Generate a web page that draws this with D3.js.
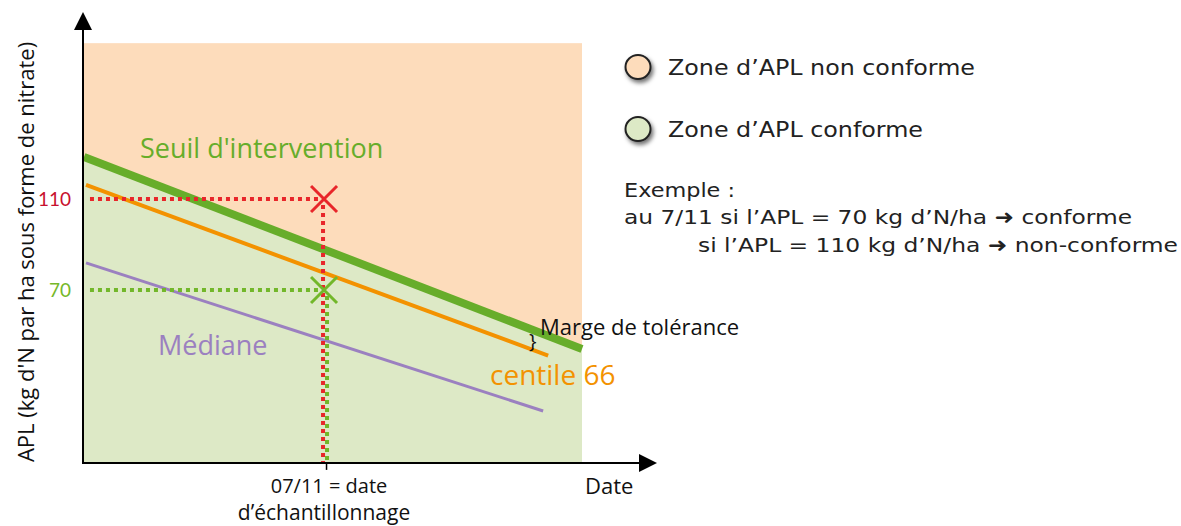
<!DOCTYPE html>
<html><head><meta charset="utf-8">
<script src="https://cdn.jsdelivr.net/npm/d3@7"></script>
<style>
html,body{margin:0;padding:0;background:#fff;}
svg{display:block;}
text{font-family:"Open Sans","Liberation Sans",sans-serif;}
.leg{font-family:"DejaVu Sans","Noto Sans",sans-serif;}
</style></head>
<body>
<svg id="c" width="1181" height="526"></svg>
<script>
// ---- data (schematic: x = day index on date axis, y = APL kg N/ha) ----
const xDomain = [0, 100];
const sampleDay = 48.4;            // 07/11
const yTicks = [110, 70];
const yTickColors = ["#c8102e", "#76b82a"];
const seuilX = [0, 100];
const seuilY = [128.5, 44.1];
const centileX = [0.4, 93.2];
const centileY = [116.2, 41.2];
const medianeX = [0.4, 92.2];
const medianeY = [81.9, 16.8];
const zoneTop = 178.5;
const yBottom = -6;
const exampleValues = [110, 70];
const exampleColors = ["#e8262a", "#72b72a"];

const svg = d3.select("#c");
const x = d3.scaleLinear().domain(xDomain).range([84, 582]);
const y = d3.scaleLinear().domain([70, 110]).range([290, 199]);

// Non-conforming zone (whole box)
svg.append("rect").attr("x", x(0)).attr("y", y(zoneTop))
  .attr("width", x(100) - x(0)).attr("height", y(yBottom) - y(zoneTop))
  .attr("fill", "#fddcbb");
// Conforming zone (below threshold)
const area = d3.area().x(d => x(d[0])).y0(y(yBottom)).y1(d => y(d[1]));
svg.append("path").datum(seuilX.map((d, i) => [d, seuilY[i]]))
  .attr("d", area).attr("fill", "#dde9c6");

const line = d3.line().x(d => x(d[0])).y(d => y(d[1]));
svg.append("path").datum(medianeX.map((d, i) => [d, medianeY[i]]))
  .attr("d", line).attr("stroke", "#9b80c0").attr("stroke-width", 3).attr("fill", "none");
svg.append("path").datum(centileX.map((d, i) => [d, centileY[i]]))
  .attr("d", line).attr("stroke", "#f39200").attr("stroke-width", 4).attr("fill", "none");
svg.append("path").datum(seuilX.map((d, i) => [d, seuilY[i]]))
  .attr("d", line).attr("stroke", "#67ad2a").attr("stroke-width", 8).attr("fill", "none");

// Example dotted lines and crosses
exampleValues.forEach((v, i) => {
  const c = exampleColors[i];
  const dx = i === 0 ? -2 : 2;
  svg.append("line").attr("x1", x(1.2)).attr("x2", x(sampleDay) - 2)
    .attr("y1", y(v)).attr("y2", y(v))
    .attr("stroke", c).attr("stroke-width", 4).attr("stroke-dasharray", "4,4");
  svg.append("line").attr("x1", x(sampleDay) + dx).attr("x2", x(sampleDay) + dx)
    .attr("y1", y(v) + 6).attr("y2", y(yBottom))
    .attr("stroke", c).attr("stroke-width", 4).attr("stroke-dasharray", "4,4");
  const cx = x(sampleDay) - 1, cy = y(v), s = 13;
  svg.append("path").attr("d", `M${cx - s},${cy - s}L${cx + s},${cy + s}M${cx - s},${cy + s}L${cx + s},${cy - s}`)
    .attr("stroke", c).attr("stroke-width", 3).attr("fill", "none");
});

// Axes
const xAxis = d3.axisBottom(x).tickValues([sampleDay]).tickSize(7).tickFormat("");
const gx = svg.append("g").attr("transform", `translate(0,${y(yBottom)})`).call(xAxis);
gx.select(".domain").remove();
gx.selectAll(".tick line").attr("stroke", "#000").attr("stroke-width", 1.5)
  .attr("transform", "translate(1,0)");
const yAxis = d3.axisLeft(y).tickValues(yTicks).tickSize(0).tickPadding(13);
const gy = svg.append("g").attr("transform", `translate(${x(0)},0)`).call(yAxis);
gy.select(".domain").remove();
gy.selectAll(".tick text").attr("fill", (d, i) => yTickColors[i])
  .style("font-size", "19px").style("font-family", "'Lato','Open Sans',sans-serif");

const ax0 = 83, ay0 = y(yBottom);
svg.append("line").attr("x1", ax0).attr("x2", ax0).attr("y1", ay0 + 1).attr("y2", 28)
  .attr("stroke", "#000").attr("stroke-width", 2);
svg.append("path").attr("d", `M${ax0},12L${ax0 - 9},30L${ax0 + 9},30Z`).attr("fill", "#000");
svg.append("line").attr("x1", ax0).attr("x2", 642).attr("y1", ay0).attr("y2", ay0)
  .attr("stroke", "#000").attr("stroke-width", 2);
svg.append("path").attr("d", `M657,${ay0}L639,${ay0 - 9}L639,${ay0 + 9}Z`).attr("fill", "#000");

// Axis titles
svg.append("text").attr("transform", "translate(34,252) rotate(-90)")
  .attr("text-anchor", "middle").style("font-size", "22px").attr("fill", "#111")
  .text("APL (kg d'N par ha sous forme de nitrate)");
svg.append("text").attr("x", x(sampleDay) + 4).attr("y", 493).attr("text-anchor", "middle")
  .style("font-size", "20px").attr("fill", "#111").text("07/11 = date");
svg.append("text").attr("x", x(sampleDay) - 1).attr("y", 520).attr("text-anchor", "middle")
  .style("font-size", "21px").attr("fill", "#111").text("d’échantillonnage");
svg.append("text").attr("x", 585).attr("y", 494)
  .style("font-size", "22px").attr("fill", "#111").text("Date");

// Line labels
svg.append("text").attr("x", 140).attr("y", 158).style("font-size", "27px")
  .attr("fill", "#67ad2a").text("Seuil d'intervention");
svg.append("text").attr("x", 158).attr("y", 355).style("font-size", "27px")
  .attr("fill", "#9b80c0").text("Médiane");
svg.append("text").attr("x", 490).attr("y", 385).style("font-size", "28px")
  .attr("fill", "#f39200").text("centile 66");
svg.append("text").attr("x", 540).attr("y", 335).style("font-size", "22px")
  .attr("fill", "#111").text("Marge de tolérance");
svg.append("text").attr("x", 529).attr("y", 348).style("font-size", "20px")
  .attr("fill", "#111").text("}");

// Legend
const defs = svg.append("defs");
const f = defs.append("filter").attr("id", "sh").attr("x", "-50%").attr("y", "-50%")
  .attr("width", "200%").attr("height", "200%");
f.append("feDropShadow").attr("dx", 2).attr("dy", 3).attr("stdDeviation", 2)
  .attr("flood-color", "#000").attr("flood-opacity", 0.55);
const legend = [["#fddcbb", "Zone d’APL non conforme", 67, 307], ["#dde9c6", "Zone d’APL conforme", 129, 255]];
legend.forEach(([c, t, yy, w]) => {
  svg.append("ellipse").attr("cx", 638).attr("cy", yy).attr("rx", 12.5).attr("ry", 12)
    .attr("fill", c).attr("stroke", "#222").attr("stroke-width", 2).attr("filter", "url(#sh)");
  svg.append("text").attr("class", "leg").attr("x", 668).attr("y", yy + 8)
    .style("font-size", "21px").attr("fill", "#222")
    .attr("textLength", w).attr("lengthAdjust", "spacingAndGlyphs").text(t);
});
const ex = [["Exemple :", 624, 197, 111], ["au 7/11 si l’APL = 70 kg d’N/ha ➜ conforme", 624, 224, 508],
            ["si l’APL = 110 kg d’N/ha ➜ non-conforme", 698, 252, 480]];
ex.forEach(([t, xx, yy, w]) => {
  svg.append("text").attr("class", "leg").attr("x", xx).attr("y", yy)
    .style("font-size", "20px").attr("fill", "#222")
    .attr("textLength", w).attr("lengthAdjust", "spacingAndGlyphs").text(t);
});
</script>
</body></html>
